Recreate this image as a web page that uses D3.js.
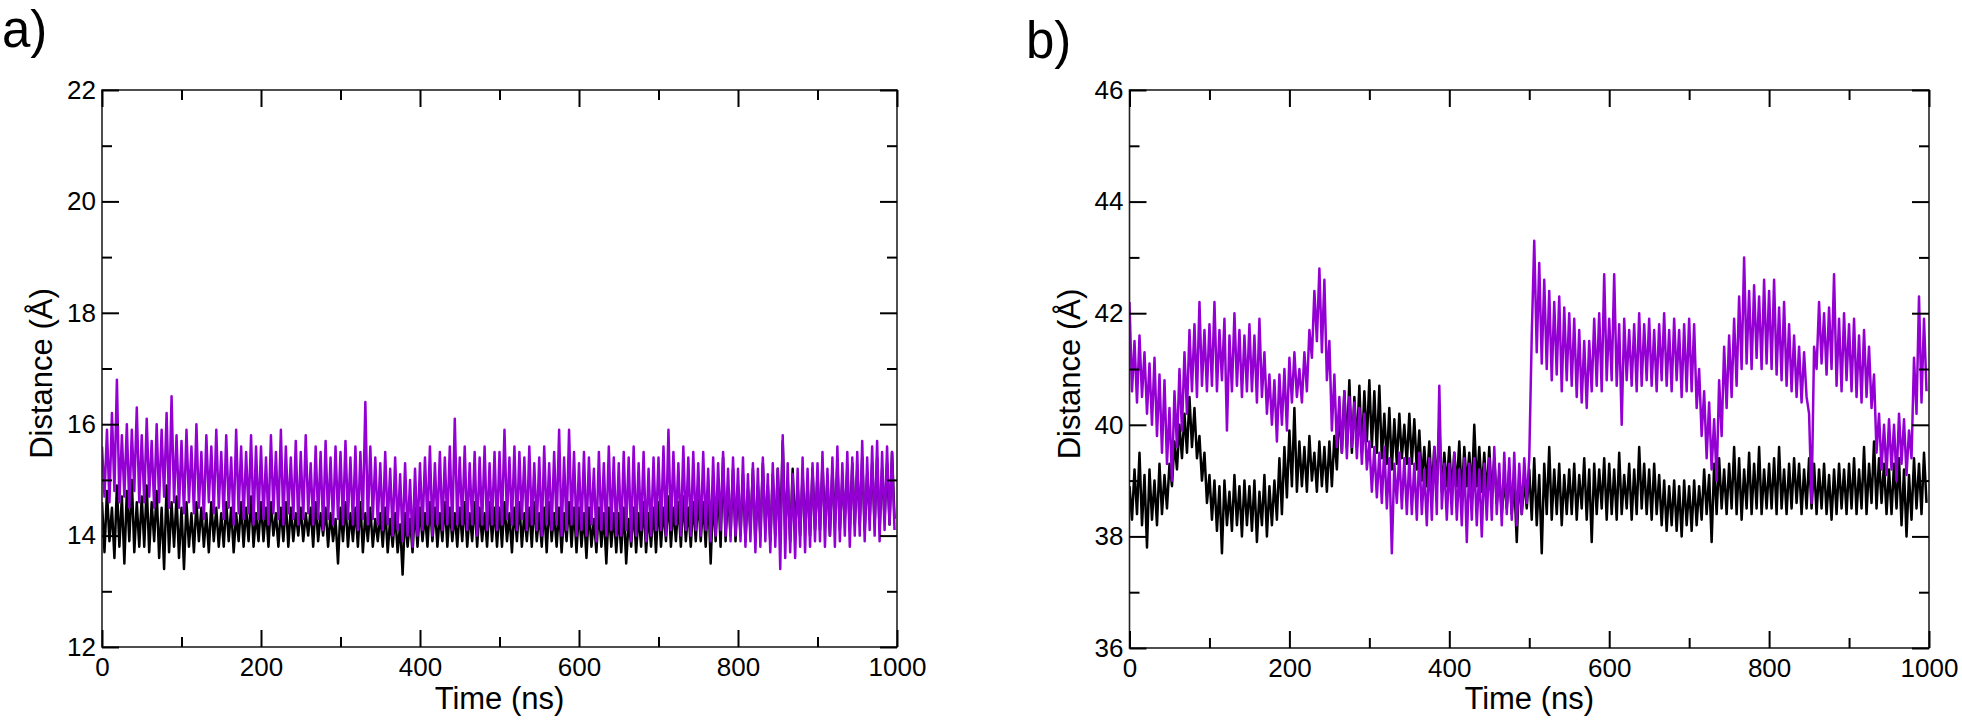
<!DOCTYPE html>
<html>
<head>
<meta charset="utf-8">
<script src="https://cdn.jsdelivr.net/npm/d3@7"></script>
<style>
  html, body { margin: 0; padding: 0; background: #fff; }
  svg { display: block; }
  text { font-family: "Liberation Sans", Arial, Helvetica, sans-serif; fill: #000; }
</style>
</head>
<body>
<svg id="chart" width="1962" height="720"></svg>
<script>
// ---------------- data ----------------
const timeStepNs = 3.125;           // sampling step of the traces (ns)
const xTickValues = [0, 200, 400, 600, 800, 1000];
const xMinorValues = [100, 300, 500, 700, 900];
const yTicksA = [12, 14, 16, 18, 20, 22];
const yMinorA = [13, 15, 17, 19, 21];
const yTicksB = [36, 38, 40, 42, 44, 46];
const yMinorB = [37, 39, 41, 43, 45];
const panelLabels = ["a)", "b)"];
const xTitle = "Time (ns)";
const yTitle = "Distance (Å)";

// panel a — black trace
const aBlack = [
14.6,13.7,14.8,13.9,14.5,13.6,14.9,13.8,14.7,13.5,14.8,13.9,15.0,13.7,14.6,13.8,
14.7,13.8,14.9,13.7,14.6,13.9,14.8,13.6,14.5,13.4,14.9,13.7,14.6,13.8,14.7,13.6,
14.5,13.4,14.6,13.8,14.4,13.7,14.6,13.9,14.5,13.8,14.4,13.7,14.6,13.9,14.5,13.8,
14.4,13.8,14.6,13.9,14.5,13.7,14.4,13.9,14.6,13.8,14.5,13.9,14.7,13.8,14.4,13.9,
14.6,13.9,14.5,13.8,14.6,14.0,14.4,13.8,14.5,13.9,14.6,13.8,14.5,13.9,14.4,14.0,
14.5,13.9,14.4,14.0,14.5,13.8,14.6,13.9,14.4,14.0,14.5,13.8,14.4,13.9,14.3,13.5,
14.5,13.9,14.6,13.8,14.4,13.9,14.5,13.8,14.6,13.7,14.4,13.9,14.5,13.8,14.3,13.9,
14.4,13.8,14.5,13.7,14.3,13.8,14.4,13.7,14.2,13.3,14.4,13.8,14.3,13.7,14.5,13.8,
14.5,13.9,14.4,13.8,14.6,13.9,14.5,13.8,14.4,13.9,14.6,13.8,14.5,13.9,14.4,13.8,
14.5,13.9,14.6,13.8,14.4,13.9,14.6,13.8,14.5,13.9,14.4,13.8,14.6,13.9,14.5,13.8,
14.5,13.8,14.6,13.9,14.4,13.7,14.5,13.9,14.6,13.8,14.4,13.9,14.5,13.8,14.6,13.9,
14.4,13.8,14.5,13.7,14.6,13.9,14.4,13.8,14.5,13.7,14.4,13.9,14.6,13.8,14.5,13.7,
14.5,13.8,14.4,13.6,14.5,13.8,14.3,13.7,14.5,13.8,14.4,13.5,14.5,13.8,14.4,13.7,
14.4,13.7,14.5,13.5,14.3,13.8,14.5,13.7,14.4,13.8,14.6,13.7,14.4,13.8,14.5,13.7,
14.6,13.8,14.5,13.9,14.7,13.8,14.5,13.9,14.6,13.8,14.7,13.9,14.5,13.8,14.6,13.9,
14.7,13.9,14.6,13.8,14.8,13.5,14.7,13.9,14.9,13.8,15.4,13.9,14.8,14.0,15.2,13.9,
14.9,14.0,15.1,13.9,14.8,14.1,15.2,13.9,14.9,14.0,15.3,14.1,14.9,13.9,15.1,14.0,
15.2,14.0,15.7,14.1,15.0,13.9,15.2,14.1,14.9,14.0,15.1,14.2,14.9,14.0,15.2,14.1,
15.1,14.1,15.3,14.2,15.0,14.0,15.2,14.2,15.3,14.1,15.0,14.3,15.2,14.1,15.3,14.2,
15.2,14.2,15.4,14.1,15.1,14.3,15.3,14.2,15.4,14.1,15.2,14.3,15.3,14.2,15.5,14.3
];

// panel a — violet trace
const aViolet = [
15.6,14.7,15.9,14.6,16.2,14.8,16.8,14.6,15.8,14.7,16.0,14.5,15.9,14.8,16.3,14.6,
15.8,14.6,16.1,14.7,15.7,14.5,16.0,14.6,15.9,14.7,16.2,14.5,16.5,14.6,15.8,14.5,
15.7,14.4,15.9,14.6,15.6,14.4,16.0,14.5,15.5,14.3,15.8,14.6,15.6,14.4,15.9,14.5,
15.5,14.3,15.8,14.5,15.4,14.2,15.9,14.4,15.6,14.3,15.5,14.4,15.8,14.2,15.6,14.3,
15.6,14.3,15.4,14.2,15.8,14.4,15.5,14.3,15.9,14.2,15.6,14.4,15.4,14.3,15.7,14.2,
15.5,14.3,15.8,14.4,15.3,14.2,15.6,14.3,15.5,14.1,15.7,14.3,15.4,14.2,15.6,14.3,
15.5,14.2,15.7,14.3,15.4,14.2,15.6,14.1,15.5,14.3,16.4,14.2,15.6,14.3,15.4,14.2,
15.3,14.1,15.5,14.2,15.2,14.0,15.4,14.1,15.1,13.9,15.3,14.0,15.0,13.8,15.2,14.0,
15.3,14.1,15.4,14.2,15.6,14.0,15.3,14.2,15.5,14.1,15.4,14.2,15.6,14.1,16.1,14.2,
15.4,14.2,15.6,14.1,15.3,14.2,15.5,14.0,15.4,14.2,15.6,14.1,15.3,14.2,15.5,14.1,
15.5,14.2,15.9,14.3,15.4,14.2,15.6,14.1,15.5,14.3,15.4,14.1,15.6,14.2,15.3,14.1,
15.4,14.0,15.6,14.2,15.3,14.1,15.5,14.2,15.9,14.0,15.4,14.1,15.9,14.2,15.5,14.0,
15.3,14.1,15.5,14.0,15.4,14.2,15.2,13.9,15.5,14.1,15.3,14.0,15.6,14.1,15.4,14.0,
15.3,14.0,15.5,14.1,15.4,13.9,15.6,14.0,15.3,14.1,15.5,13.9,15.2,14.0,15.4,14.1,
15.4,14.1,15.6,14.0,15.9,14.1,15.5,14.2,15.3,14.0,15.6,14.1,15.4,14.0,15.5,14.1,
15.3,14.0,15.5,14.1,15.2,13.9,15.4,14.0,15.3,14.1,15.5,14.0,15.2,13.9,15.4,14.0,
15.2,13.9,15.4,13.8,15.1,13.9,15.3,13.7,15.2,13.8,15.4,13.9,15.1,13.7,15.3,13.8,
15.2,13.4,15.8,13.6,15.3,13.7,15.1,13.6,15.2,13.8,15.4,13.7,15.2,13.8,15.3,13.9,
15.3,13.9,15.5,13.8,15.2,14.0,15.4,13.8,15.6,13.9,15.3,14.0,15.5,13.8,15.4,14.0,
15.5,14.0,15.7,13.9,15.4,14.1,15.6,14.0,15.7,13.9,15.5,14.1,15.6,14.2,15.5,14.1
];

// panel b — black trace
const bBlack = [
38.9,38.3,39.2,38.4,39.5,38.2,39.1,37.8,39.2,38.3,39.0,38.2,39.3,38.4,39.1,38.5,
39.3,38.9,39.7,39.2,40.0,39.4,40.2,39.5,40.5,39.6,40.3,39.4,39.8,39.0,39.5,38.6,
39.1,38.3,39.0,38.1,38.9,37.7,39.0,38.2,38.8,38.1,39.1,38.2,38.9,38.0,39.0,38.2,
38.9,38.1,39.0,37.9,38.8,38.2,39.1,38.0,38.9,38.2,39.0,38.3,39.4,38.4,39.6,38.7,
39.9,38.9,40.3,38.8,39.7,38.9,39.6,38.8,39.8,39.0,39.5,38.8,39.7,38.9,39.6,38.8,
39.7,38.9,39.8,39.2,40.3,39.5,40.6,39.6,40.8,39.5,40.5,39.6,40.7,39.5,40.6,39.7,
40.8,39.6,40.6,39.5,40.7,39.4,40.2,39.3,40.3,39.2,40.1,39.3,40.2,39.4,40.0,39.3,
40.2,39.3,40.1,39.2,39.9,39.0,39.6,38.9,39.7,38.8,39.6,38.9,40.0,38.8,39.5,38.9,
39.6,38.8,39.5,38.9,39.7,38.7,39.6,38.9,39.5,38.8,40.0,38.9,39.6,38.8,39.5,38.7,
39.6,38.7,39.4,38.6,39.1,38.4,39.0,38.5,39.2,38.4,39.0,37.9,39.1,38.4,39.0,38.5,
39.2,38.3,39.4,38.2,39.1,37.7,39.3,38.4,39.6,38.3,39.2,38.4,39.3,38.2,39.1,38.4,
39.2,38.4,39.3,38.3,39.1,38.5,39.4,38.3,39.2,37.9,39.3,38.4,39.2,38.5,39.4,38.3,
39.3,38.4,39.2,38.3,39.5,38.4,39.1,38.5,39.3,38.3,39.2,38.4,39.6,38.5,39.3,38.4,
39.2,38.3,39.3,38.4,39.1,38.2,39.0,38.1,38.9,38.2,39.0,38.1,38.9,38.0,39.0,38.2,
38.9,38.1,39.0,38.2,38.9,38.3,39.2,38.4,39.1,37.9,39.3,38.4,39.4,38.5,39.2,38.4,
39.3,38.5,39.6,38.4,39.4,38.3,39.2,38.5,39.5,38.4,39.3,38.5,39.6,38.4,39.2,38.5,
39.3,38.5,39.4,38.4,39.6,38.5,39.2,38.4,39.3,38.5,39.4,38.6,39.3,38.4,39.2,38.5,
39.4,38.5,39.3,38.4,39.2,38.5,39.3,38.4,39.1,38.3,39.2,38.4,39.3,38.5,39.2,38.4,
39.3,38.5,39.4,38.4,39.2,38.5,39.6,38.4,39.3,38.6,39.7,38.5,39.4,38.6,39.3,38.4,
39.2,38.4,39.3,38.5,39.4,38.2,39.2,38.0,39.1,38.3,39.4,38.5,39.3,38.4,39.5,38.6
];

// panel b — violet trace
const bViolet = [
42.2,40.6,41.5,40.4,41.6,40.5,41.3,40.2,41.1,40.0,41.2,39.8,40.9,39.5,40.8,39.3,
40.3,39.0,40.6,39.6,41.0,39.9,41.3,40.2,41.7,40.6,41.8,40.5,42.2,40.7,41.7,40.6,
41.8,40.7,42.2,40.6,41.7,40.8,41.9,39.9,41.6,40.6,42.0,40.7,41.7,40.5,41.6,40.6,
41.8,40.6,41.6,40.4,41.9,40.5,41.3,40.2,40.9,40.0,40.8,39.7,40.9,40.0,41.0,39.9,
41.2,40.4,41.3,40.5,41.0,40.4,41.3,40.6,41.7,41.2,42.4,41.5,42.8,41.3,42.6,40.8,
41.5,39.9,40.9,39.6,40.5,39.5,40.6,39.4,40.5,39.6,40.4,39.4,40.3,39.3,40.2,39.2,
39.7,38.8,39.6,38.7,39.5,38.6,39.6,38.5,39.4,37.7,39.3,38.6,39.5,38.5,39.4,38.4,
39.4,38.4,39.3,38.3,39.5,38.4,39.2,38.2,39.4,38.3,39.6,38.4,40.7,38.5,39.3,38.3,
39.3,38.4,39.5,38.3,39.2,38.2,39.4,37.9,39.3,38.3,39.4,38.2,39.2,38.0,39.3,38.3,
39.4,38.3,39.6,38.4,39.3,38.2,39.5,38.4,39.4,38.3,39.5,38.2,39.3,38.4,39.4,38.6,
39.4,41.6,43.3,41.3,42.9,41.1,42.6,41.0,42.4,40.8,42.2,40.9,42.3,40.6,42.1,40.8,
42.0,40.7,41.9,40.5,41.7,40.4,41.5,40.3,41.5,40.6,41.9,40.7,42.0,40.6,42.7,40.8,
41.9,40.8,42.7,40.7,41.8,40.0,41.9,40.8,41.7,40.7,41.8,40.6,42.0,40.7,41.8,40.8,
41.9,40.7,41.7,40.6,41.8,40.8,42.0,40.7,41.7,40.6,41.9,40.8,41.7,40.5,41.8,40.6,
41.9,40.6,41.8,40.3,41.0,39.8,40.6,39.4,40.4,39.2,40.1,39.0,40.8,39.8,41.4,40.3,
41.6,40.5,41.9,40.7,42.3,41.0,43.0,41.1,42.4,41.0,42.5,41.2,42.3,41.0,42.6,41.1,
42.4,41.0,42.6,40.9,42.1,40.8,42.2,40.7,41.8,40.6,41.6,40.5,41.4,40.4,41.3,40.5,
40.2,38.6,41.4,41.0,42.2,41.1,42.0,40.9,42.1,41.0,42.7,40.7,41.9,40.6,42.0,40.8,
41.8,40.6,41.9,40.5,41.6,40.4,41.7,40.5,41.4,40.3,40.9,39.5,40.2,39.2,40.0,39.1,
40.1,39.2,40.0,39.0,40.2,39.3,40.1,39.1,39.9,39.4,41.2,40.2,42.3,40.4,41.9,40.6
];

// ---------------- drawing ----------------
const svg = d3.select("#chart");
const COLORS = { black: "#000000", violet: "#9400d3" };

const panels = [
  { id: "a", label: panelLabels[0], labelX: 2, labelY: 47,
    left: 102, right: 897, top: 90, bottom: 647,
    yDomain: [12, 22], yMajor: yTicksA, yMinor: yMinorA,
    series: [ { v: aBlack, c: COLORS.black }, { v: aViolet, c: COLORS.violet } ] },
  { id: "b", label: panelLabels[1], labelX: 1026, labelY: 58,
    left: 1129.5, right: 1929, top: 90, bottom: 648,
    yDomain: [36, 46], yMajor: yTicksB, yMinor: yMinorB,
    series: [ { v: bBlack, c: COLORS.black }, { v: bViolet, c: COLORS.violet } ] }
];

panels.forEach(p => {
  const x = d3.scaleLinear().domain([0, 1000]).range([p.left, p.right]);
  const y = d3.scaleLinear().domain(p.yDomain).range([p.bottom, p.top]);
  const g = svg.append("g");

  svg.append("clipPath").attr("id", "clip-" + p.id)
    .append("rect").attr("x", p.left).attr("y", p.top)
    .attr("width", p.right - p.left).attr("height", p.bottom - p.top);

  // traces
  const line = d3.line().x((d, i) => x(i * timeStepNs)).y(d => y(d));
  p.series.forEach(s => {
    g.append("path").datum(s.v)
      .attr("clip-path", "url(#clip-" + p.id + ")")
      .attr("fill", "none").attr("stroke", s.c)
      .attr("stroke-width", 2.5).attr("stroke-linejoin", "round")
      .attr("d", line);
  });

  // frame
  g.append("rect").attr("x", p.left).attr("y", p.top)
    .attr("width", p.right - p.left).attr("height", p.bottom - p.top)
    .attr("fill", "none").attr("stroke", "#222").attr("stroke-width", 1.6);

  const styleAxis = sel => {
    sel.select(".domain").remove();
    sel.selectAll(".tick line").attr("stroke", "#000").attr("stroke-width", 2);
    sel.selectAll(".tick text").style("font-size", "26px")
      .style("font-family", "'Liberation Sans', Arial, sans-serif").attr("fill", "#000");
  };

  g.append("g").attr("transform", `translate(0,${p.bottom})`)
    .call(d3.axisBottom(x).tickValues(xTickValues).tickSize(-17).tickPadding(11).tickFormat(d3.format("d")))
    .call(styleAxis);
  g.append("g").attr("transform", `translate(0,${p.bottom})`)
    .call(d3.axisBottom(x).tickValues(xMinorValues).tickSize(-10).tickFormat(""))
    .call(styleAxis);
  g.append("g").attr("transform", `translate(0,${p.top})`)
    .call(d3.axisTop(x).tickValues(xTickValues).tickSize(-17).tickFormat(""))
    .call(styleAxis);
  g.append("g").attr("transform", `translate(0,${p.top})`)
    .call(d3.axisTop(x).tickValues(xMinorValues).tickSize(-10).tickFormat(""))
    .call(styleAxis);
  g.append("g").attr("transform", `translate(${p.left},0)`)
    .call(d3.axisLeft(y).tickValues(p.yMajor).tickSize(-17).tickPadding(6).tickFormat(d3.format("d")))
    .call(styleAxis);
  g.append("g").attr("transform", `translate(${p.left},0)`)
    .call(d3.axisLeft(y).tickValues(p.yMinor).tickSize(-10).tickFormat(""))
    .call(styleAxis);
  g.append("g").attr("transform", `translate(${p.right},0)`)
    .call(d3.axisRight(y).tickValues(p.yMajor).tickSize(-17).tickFormat(""))
    .call(styleAxis);
  g.append("g").attr("transform", `translate(${p.right},0)`)
    .call(d3.axisRight(y).tickValues(p.yMinor).tickSize(-10).tickFormat(""))
    .call(styleAxis);

  g.append("text").attr("x", (p.left + p.right) / 2).attr("y", 709)
    .attr("text-anchor", "middle").style("font-size", "31px").text(xTitle);
  g.append("text")
    .attr("transform", `translate(${p.left - 50},${(p.top + p.bottom) / 2 + 5}) rotate(-90)`)
    .attr("text-anchor", "middle").style("font-size", "31px").text(yTitle);

  g.append("text").attr("x", p.labelX).attr("y", p.labelY)
    .style("font-size", "51px").text(p.label);
});
</script>
</body>
</html>
